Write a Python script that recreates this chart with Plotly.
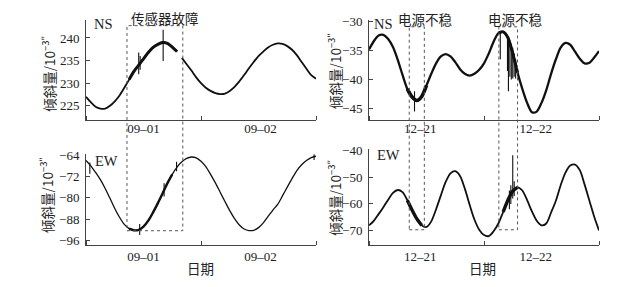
import plotly.graph_objects as go

# ---------------- data ----------------
# hours since start of first day (two days shown per panel)
hours = list(range(49))

# left column: 09-01 / 09-02
ns_left_seg1_hours = list(range(0, 20))
ns_left_seg1 = [227.0, 225.8, 224.8, 224.4, 224.4, 225.0, 226.0, 227.3, 229.0, 230.8,
                232.6, 234.0, 235.4, 236.8, 237.9, 238.6, 239.0, 238.8, 238.0, 237.0]
ns_left_seg2_hours = list(range(20, 49))
ns_left_seg2 = [235.6, 234.2, 232.8, 231.3, 230.0, 229.0, 228.3, 227.8, 227.6, 227.7,
                228.3, 229.2, 230.4, 231.8, 233.3, 234.7, 236.0, 237.0, 237.9, 238.5,
                238.8, 238.7, 238.2, 237.4, 236.2, 234.7, 233.2, 231.8, 231.0]

ew_left = [-66.0, -68.0, -70.5, -73.2, -76.5, -80.2, -84.0, -87.3, -90.0, -91.6,
           -92.2, -92.0, -90.8, -88.6, -85.5, -82.0, -78.3, -74.5, -71.2, -68.5,
           -66.5, -65.2, -64.7, -65.0, -66.3, -68.3, -71.2, -74.4, -77.9, -81.4,
           -84.8, -87.8, -90.2, -91.7, -92.3, -92.2, -91.2, -89.4, -87.0, -84.6,
           -82.5, -79.3, -76.0, -72.8, -69.8, -67.6, -66.0, -64.9, -64.4]

# right column: 12-21 / 12-22
ns_right = [-34.8, -33.4, -32.4, -32.3, -33.0, -34.4, -36.6, -39.2, -41.6, -43.0,
            -43.6, -42.9, -41.0, -39.0, -37.2, -36.0, -35.6, -36.0, -37.0, -38.2,
            -39.0, -39.3, -39.0, -38.3, -37.2, -35.5, -33.5, -32.0, -31.8, -32.8,
            -35.5, -38.8, -41.6, -44.0, -45.6, -45.5, -44.0, -41.8, -39.0, -36.5,
            -34.5, -33.7, -34.0, -35.2, -36.4, -37.2, -37.1, -36.2, -35.1]

ew_right = [-68.0, -66.3, -63.8, -61.2, -58.4, -55.9, -54.8, -55.6, -58.6, -62.3,
            -65.6, -68.0, -68.6, -66.5, -62.0, -56.8, -51.8, -48.6, -47.8, -49.6,
            -54.3, -60.3, -65.8, -69.6, -71.6, -72.0, -70.2, -67.3, -63.0, -58.5,
            -55.2, -53.8, -55.0, -58.6, -62.8, -66.3, -68.0, -67.3, -63.2, -58.8,
            -53.0, -48.3, -45.7, -45.3, -47.4, -52.8, -58.8, -64.8, -69.9]

# noise spikes: (hour, low, high)
ns_left_spikes = [(11.0, 232.0, 236.8), (11.3, 233.0, 236.0), (16.1, 234.9, 241.8)]
ew_left_spikes = [(0.8, -71.0, -66.8), (11.2, -94.0, -89.8), (16.3, -79.5, -74.5),
                  (18.9, -70.0, -66.5), (47.6, -65.8, -63.2)]
ns_right_spikes = [(9.5, -45.5, -42.0), (27.4, -36.5, -32.0), (28.9, -38.5, -32.5),
                   (29.1, -42.0, -33.0), (29.4, -39.5, -33.5), (29.7, -40.0, -34.0),
                   (30.0, -39.8, -34.5), (30.3, -39.5, -35.5), (30.6, -39.8, -36.5)]
ew_right_spikes = [(29.3, -62.0, -55.0), (29.6, -60.0, -53.0), (30.0, -58.0, -41.8),
                   (30.3, -57.0, -51.5)]

# fault windows (hours)
left_window = (8.55, 20.2)
right_windows = [(8.4, 11.55), (27.1, 31.0)]

left_day_labels = ["09–01", "09–02"]
right_day_labels = ["12–21", "12–22"]

# ---------------- layout helpers ----------------
W, H = 641, 287
def px(p):
    return p / W
def py(p):
    return 1 - p / H

FONT = "Liberation Serif, Noto Sans CJK SC, serif"
CJK = "Noto Sans CJK SC, Liberation Serif, serif"
INK = "#222222"
AX = "#444444"

fig = go.Figure()

def curve(x, y, xa, ya, w=1.6):
    fig.add_trace(go.Scatter(x=x, y=y, xaxis=xa, yaxis=ya, mode="lines",
                             line=dict(color="#111111", width=w, shape="spline", smoothing=0.8),
                             showlegend=False, hoverinfo="skip"))

def spikes(sp, xa, ya, w=1.1):
    xs, ys = [], []
    for h, lo, hi in sp:
        xs += [h, h, None]
        ys += [lo, hi, None]
    fig.add_trace(go.Scatter(x=xs, y=ys, xaxis=xa, yaxis=ya, mode="lines",
                             line=dict(color="#111111", width=w),
                             showlegend=False, hoverinfo="skip"))

# top-left NS
curve(ns_left_seg1_hours, ns_left_seg1, "x", "y", 1.8)
curve(ns_left_seg2_hours, ns_left_seg2, "x", "y", 1.8)
curve(ns_left_seg1_hours[9:], ns_left_seg1[9:], "x", "y", 3.0)
spikes(ns_left_spikes, "x", "y")

# top-right NS
curve(hours, ns_right, "x2", "y2", 2.3)
curve(hours[8:13], ns_right[8:13], "x2", "y2", 3.6)
curve(hours[27:32], ns_right[27:32], "x2", "y2", 3.0)
spikes(ns_right_spikes, "x2", "y2")

# bottom-left EW
curve(hours, ew_left, "x3", "y3", 1.3)
curve(hours[9:19], ew_left[9:19], "x3", "y3", 2.4)
spikes(ew_left_spikes, "x3", "y3")

# bottom-right EW
curve(hours, ew_right, "x4", "y4", 1.8)
curve(hours[8:12], ew_right[8:12], "x4", "y4", 3.4)
curve(hours[28:32], ew_right[28:32], "x4", "y4", 3.4)
spikes(ew_right_spikes, "x4", "y4")

# ---------------- axes ----------------
xl_dom = [px(86), px(316)]
xr_dom = [px(369), px(599)]
top_dom = [py(118), py(14)]
bl_dom = [py(247), py(153)]
br_dom = [py(247), py(148)]

def xaxis(dom, anchor, labvals, labels, standoff):
    return dict(domain=dom, anchor=anchor, range=[0, 48], showline=True, linecolor=AX,
                linewidth=1, showgrid=False, zeroline=False, ticks="",
                tickmode="array", tickvals=labvals, ticktext=labels,
                ticklabelstandoff=standoff,
                tickfont=dict(family=FONT, size=13, color=INK),
                minor=dict(tickmode="array", tickvals=[0, 24, 48], ticks="inside",
                           ticklen=4, tickcolor=AX, showgrid=False),
                fixedrange=True)

def yaxis(dom, anchor, rng, tv, extra=None):
    d = dict(domain=dom, anchor=anchor, range=rng, showline=True, linecolor=AX,
             linewidth=1, showgrid=False, zeroline=False, ticks="inside", ticklen=4,
             tickcolor=AX, tickmode="array", tickvals=tv, ticklabelstandoff=3,
             tickfont=dict(family=FONT, size=13, color=INK), fixedrange=True)
    if extra is not None:
        d["minor"] = dict(tickmode="array", tickvals=extra, ticks="inside", ticklen=4,
                          tickcolor=AX, showgrid=False)
    return d

fig.update_layout(
    width=W, height=H, margin=dict(l=0, r=0, t=0, b=0),
    paper_bgcolor="white", plot_bgcolor="white",
    xaxis=xaxis(xl_dom, "y", [12, 36.4], left_day_labels, -4),
    yaxis=yaxis(top_dom, "x", [221.8, 244.07], [225, 230, 235, 240], [244.0]),
    xaxis2=xaxis(xr_dom, "y2", [10.7, 34.8], right_day_labels, -4),
    yaxis2=yaxis(top_dom, "x2", [-47.0, -29.67], [-45, -40, -35, -30]),
    xaxis3=xaxis(xl_dom, "y3", [12, 36.4], left_day_labels, -1),
    yaxis3=yaxis(bl_dom, "x3", [-97.82, -63.64], [-96, -88, -80, -72, -64]),
    xaxis4=xaxis(xr_dom, "y4", [10.7, 34.8], right_day_labels, -1),
    yaxis4=yaxis(br_dom, "x4", [-75.42, -39.64], [-70, -60, -50, -40]),
)

# ---------------- fault boxes (span both rows) ----------------
box_line = dict(color="#555555", width=1, dash="dot")
fig.add_shape(type="rect", xref="x", yref="paper", x0=left_window[0], x1=left_window[1],
              y0=py(232), y1=py(20.3), line=box_line, layer="above")
for a, b in right_windows:
    fig.add_shape(type="rect", xref="x2", yref="paper", x0=a, x1=b,
                  y0=py(231), y1=py(21.5), line=box_line, layer="above")

# ---------------- text ----------------
def note(text, x, y, size=13, family=FONT, angle=0):
    fig.add_annotation(text=text, x=px(x), y=py(y), xref="paper", yref="paper",
                       showarrow=False, xanchor="center", yanchor="middle",
                       textangle=angle, font=dict(family=family, size=size, color=INK))

note("NS", 103, 19, 14.5)
note("NS", 383.5, 18.5, 14.5)
note("EW", 106.7, 160, 14.5)
note("EW", 388, 154.3, 14.5)
note("传感器故障", 164.5, 12.5, 13.5, CJK)
note("电源不稳", 425, 13.5, 13.5, CJK)
note("电源不稳", 514.5, 13.5, 13.5, CJK)

ytitle = "倾斜量/10<sup>−3″</sup>"
note(ytitle, 49, 70, 13.5, CJK, -90)
note(ytitle, 47, 195, 13.5, CJK, -90)
note(ytitle, 335, 67, 13.5, CJK, -90)
note(ytitle, 335, 198, 13.5, CJK, -90)

note("日期", 200, 270.7, 13.5, CJK)
note("日期", 482.5, 270.7, 13.5, CJK)

fig.write_html("out.html", config={"displayModeBar": False},
               post_script="document.body.style.margin='0';document.body.style.overflow='hidden';")
